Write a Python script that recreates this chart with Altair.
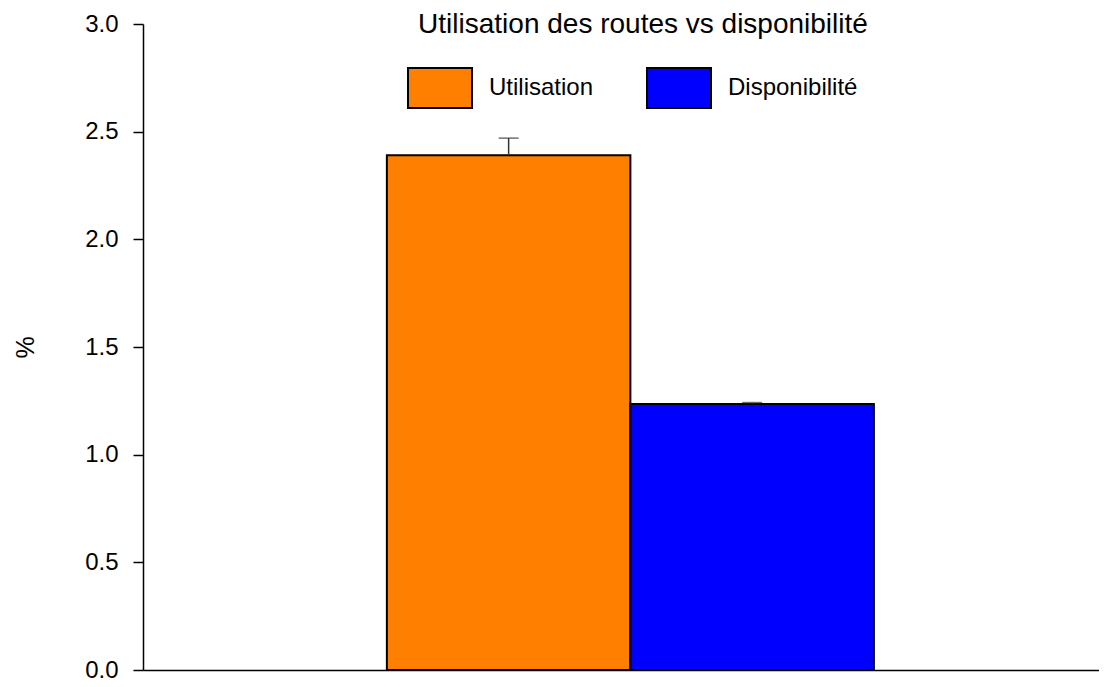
import altair as alt
import pandas as pd

categories = ["Utilisation", "Disponibilité"]
values = [2.39, 1.235]
errors = [0.08, 0.007]
colors = ["#FF8000", "#0000FF"]
y_ticks = [0.0, 0.5, 1.0, 1.5, 2.0, 2.5, 3.0]

df = pd.DataFrame({"cat": categories, "val": values, "err": errors})
df["upper"] = df["val"] + df["err"]

FONT = "Liberation Sans"

x_enc = alt.X(
    "cat:N",
    sort=categories,
    scale=alt.Scale(domain=categories, paddingInner=0, paddingOuter=0.963, align=0.52),
    axis=alt.Axis(labels=False, ticks=False, title=None, domainColor="black", domainWidth=1.5, grid=False),
)
y_scale = alt.Scale(domain=[0, 3], nice=False)

bars = alt.Chart(df).mark_bar(stroke="black", strokeWidth=2).encode(
    x=x_enc,
    y=alt.Y(
        "val:Q",
        scale=y_scale,
        axis=alt.Axis(
            values=y_ticks, format=".1f", title="%", grid=False,
            domainColor="black", domainWidth=1.5, tickColor="black", tickWidth=1.5,
            tickSize=10, labelPadding=15, labelFontSize=24, labelFont=FONT, labelColor="black",
            titleFont=FONT, titleFontSize=25, titleFontWeight="normal", titleColor="black",
            titlePadding=46,
        ),
    ),
    color=alt.Color(
        "cat:N",
        sort=categories,
        scale=alt.Scale(domain=categories, range=colors),
        legend=alt.Legend(
            title=None, orient="none", legendX=264, legendY=31, direction="horizontal",
            symbolType="M-1,-0.625L1,-0.625L1,0.625L-1,0.625Z", symbolSize=4096,
            symbolStrokeColor="black", symbolStrokeWidth=2, symbolOpacity=1,
            labelFont=FONT, labelFontSize=24, labelColor="black", labelOffset=16,
            columnPadding=49, padding=0,
        ),
    ),
)

rules = alt.Chart(df).mark_rule(color="#333333", strokeWidth=1.5).encode(
    x=alt.X("cat:N", sort=categories),
    y=alt.Y("val:Q", scale=y_scale),
    y2="upper:Q",
)

caps = alt.Chart(df).mark_tick(color="#333333", size=20, thickness=1.5).encode(
    x=alt.X("cat:N", sort=categories),
    y=alt.Y("upper:Q", scale=y_scale),
)

chart = alt.layer(bars, rules, caps).properties(
    width=956,
    height=646,
    autosize=alt.AutoSizeParams(type="none"),
    padding={"left": 135, "top": 16, "right": 0, "bottom": 12},
    title=alt.TitleParams(
        "Utilisation des routes vs disponibilité",
        font=FONT, fontSize=28, fontWeight="normal", color="black",
        anchor="middle", baseline="alphabetic", offset=0, dx=22, dy=49,
    ),
).configure_view(stroke=None)

chart.save("out.html", embed_options={"renderer": "svg", "actions": False})
